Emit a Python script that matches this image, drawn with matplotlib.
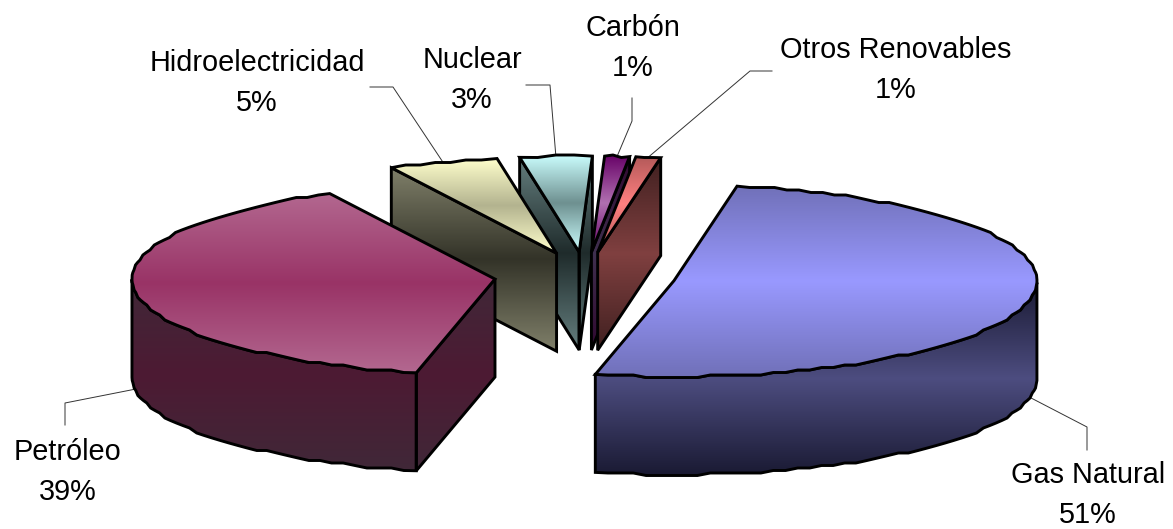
import numpy as np
import matplotlib
matplotlib.use("Agg")
import matplotlib.pyplot as plt
from matplotlib.colors import LinearSegmentedColormap
from matplotlib.patches import Polygon

##########       Data       #############################
categories = ['Gas Natural', 'Petróleo', 'Hidroelectricidad', 'Nuclear', 'Carbón', 'Otros Renovables']
shares = [50.7, 39.0, 4.9, 3.2, 1.1, 1.1]
##########                  #############################

# colours: top surface (edge, middle) and side wall (edge, middle)
top_colors = [('#7070B8', '#9999FF'), ('#B36890', '#993366'), ('#FFFFCC', '#B3B38F'),
              ('#CCFFFF', '#6E9090'), ('#660066', '#B070B0'), ('#B35959', '#FF8080')]
wall_colors = [('#1A1A33', '#4D4D80'), ('#402838', '#4D1A33'), ('#80806A', '#333328'),
               ('#668080', '#1F2B2B'), ('#300830', '#40304F'), ('#402020', '#804040')]

# label centre and leader elbows, in pixels of the 1173x529 canvas
label_pos = [(1088, 495), (68, 472), (257, 83), (472, 80), (633, 48), (896, 70)]
leader_elbows = [[(1087, 427), (1087, 450)], [(65, 403), (65, 425)], [(393, 87), (370, 87)],
                 [(550, 85), (526, 85)], [(632, 121), (632, 98)], [(750, 71), (772, 71)]]

# pie geometry
START = 10.0       # first slice angle, clockwise from the top
RX, RY = 363, 96
CX, CY = 585, 276
EXPLODE = 0.25
DEPTH = 98
SNAP = 2.5         # the original outline is stepped, not smooth

fig = plt.figure(figsize=(11.73, 5.29), dpi=100, facecolor='white')
ax = fig.add_axes([0, 0, 1, 1])
ax.set_axis_off()


def rim(cx, cy, deg):
    t = np.radians(deg)
    return np.column_stack([cx + RX * np.sin(t), cy - RY * np.cos(t)])


def stepped(pts):
    out = pts.copy()
    out[1:-1, 1] = np.round(out[1:-1, 1] / SNAP) * SNAP
    return out


def fill_gradient(pts, edge, middle, y0, y1, z):
    cmap = LinearSegmentedColormap.from_list('g', [edge, middle, edge])
    im = ax.imshow(np.linspace(0, 1, 256).reshape(-1, 1), cmap=cmap, aspect='auto',
                   extent=[pts[:, 0].min() - 2, pts[:, 0].max() + 2, y1, y0],
                   interpolation='bilinear', zorder=z)
    outline = Polygon(pts, closed=True, fc='none', ec='black', lw=2.1, joinstyle='miter', zorder=z + 0.1)
    ax.add_patch(outline)
    im.set_clip_path(outline)


angles = START + np.cumsum([0] + shares) * 3.6
slices = []
for i in range(len(shares)):
    a, b = angles[i], angles[i + 1]
    mid = np.radians((a + b) / 2)
    cx = CX + EXPLODE * RX * np.sin(mid)
    cy = CY - EXPLODE * RY * np.cos(mid)
    slices.append((np.cos(mid), i, a, b, cx, cy))

# painter's order, back slices first
for n, (_, i, a, b, cx, cy) in enumerate(sorted(slices, reverse=True)):
    z = 2 + n
    sweep = np.linspace(a, b, max(int((b - a) / 2), 4))
    arc = stepped(rim(cx, cy, sweep))
    centre = np.array([[cx, cy]])
    top = np.vstack([centre, arc])
    down = np.array([0, DEPTH])

    walls = []
    if np.sin(np.radians(a)) < 0:
        p = rim(cx, cy, [a])
        walls.append(np.vstack([centre, p, p + down, centre + down]))
    if np.sin(np.radians(b)) > 0:
        p = rim(cx, cy, [b])
        walls.append(np.vstack([centre, p, p + down, centre + down]))
    front = (sweep % 360 >= 90) & (sweep % 360 <= 270)
    if front.sum() > 1:
        part = stepped(rim(cx, cy, sweep[front]))
        walls.append(np.vstack([part, part[::-1] + down]))

    if walls:
        every = np.vstack(walls)
        y0, y1 = every[:, 1].min(), every[:, 1].max()
        for w in walls:
            fill_gradient(w, wall_colors[i][0], wall_colors[i][1], y0, y1, z)
    fill_gradient(top, top_colors[i][0], top_colors[i][1], top[:, 1].min(), top[:, 1].max(), z + 0.2)

    # leader from the slice's rim
    start = rim(cx, cy, [(a + b) / 2])[0]
    if np.cos(np.radians((a + b) / 2)) < 0.5:
        start = start + down
    path = np.vstack([start, leader_elbows[i]])
    ax.plot(path[:, 0], path[:, 1], color='#333333', lw=0.7, zorder=1)

    ax.text(label_pos[i][0], label_pos[i][1], f'{categories[i]}\n{shares[i]:.0f}%', ha='center', va='center',
            fontsize=20.8, family='Liberation Sans', color='black', linespacing=1.58, zorder=20)

ax.set_xlim(0, 1173)
ax.set_ylim(529, 0)

fig.savefig('out.png', dpi=100)
